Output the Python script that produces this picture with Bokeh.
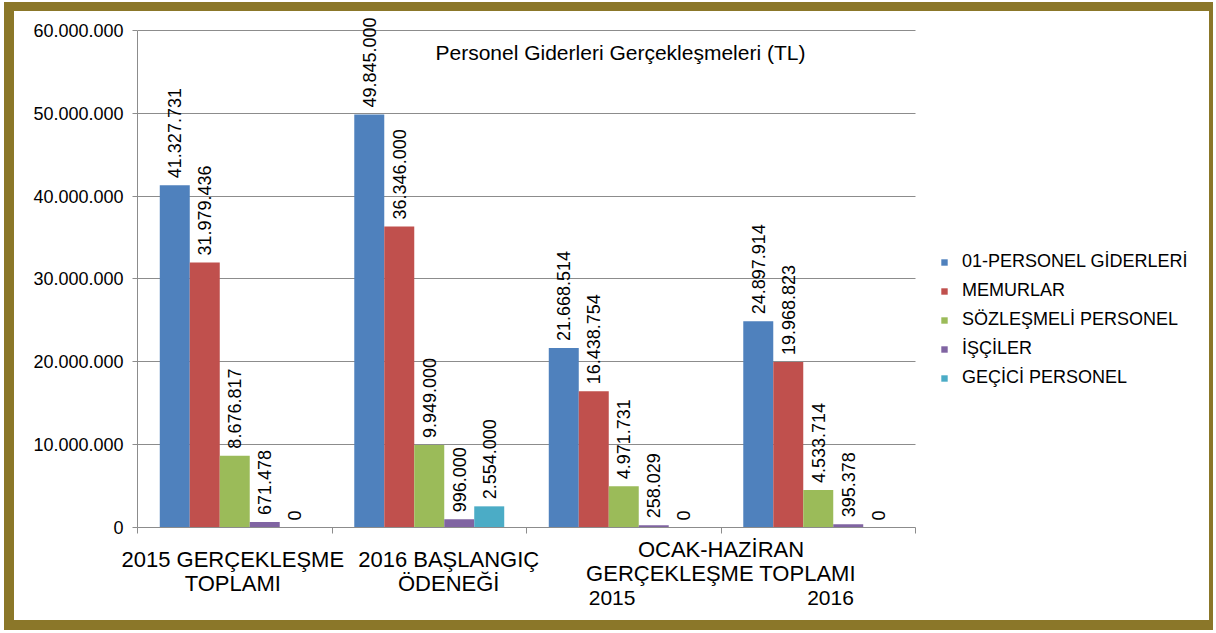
from bokeh.plotting import figure
from bokeh.models import (ColumnDataSource, Range1d, FixedTicker, Legend, LegendItem, Label, LinearAxis)
from bokeh.transform import dodge
from bokeh.core.properties import value
from bokeh.embed import file_html
from bokeh.resources import INLINE

# ---- data ----
categories = ["2015 GERÇEKLEŞME\nTOPLAMI", "2016 BAŞLANGIÇ\nÖDENEĞİ", "2015", "2016"]
group_label = "OCAK-HAZİRAN\nGERÇEKLEŞME TOPLAMI"
series_names = ["01-PERSONEL GİDERLERİ", "MEMURLAR", "SÖZLEŞMELİ PERSONEL", "İŞÇİLER", "GEÇİCİ PERSONEL"]
personel_giderleri = [41327731, 49845000, 21668514, 24897914]
memurlar = [31979436, 36346000, 16438754, 19968823]
sozlesmeli = [8676817, 9949000, 4971731, 4533714]
isciler = [671478, 996000, 258029, 395378]
gecici = [0, 2554000, 0, 0]
series_values = [personel_giderleri, memurlar, sozlesmeli, isciler, gecici]
colors = ["#4F81BD", "#C0504D", "#9BBB59", "#8064A2", "#4BACC6"]
y_ticks = [0, 10000000, 20000000, 30000000, 40000000, 50000000, 60000000]
y_tick_labels = ["0", "10.000.000", "20.000.000", "30.000.000", "40.000.000", "50.000.000", "60.000.000"]
title_text = "Personel Giderleri Gerçekleşmeleri (TL)"

FONT = "Liberation Sans"
N = len(categories)
Y_MAX = 60000000


def tr_fmt(v):
    return f"{v:,}".replace(",", ".")


p = figure(width=1209, height=628, output_backend="svg", toolbar_location=None,
           x_range=Range1d(0, 5.491), y_range=Range1d(0, 61930000),
           min_border_left=123, min_border_top=3, min_border_bottom=112, min_border_right=18,
           background_fill_color="white", border_fill_color="white",
           styles={"border-style": "solid", "border-color": "#8B7729",
                   "border-width": "9px 4px 10px 10px",
                   "margin": "2px 0px 0px 4px"})
p.outline_line_color = None

group_x = [i + 0.5 for i in range(N)]
bar_w = 0.1542
renderers = []
for j, (name, vals, col) in enumerate(zip(series_names, series_values, colors)):
    src = ColumnDataSource(dict(x=group_x, top=vals, lab=[tr_fmt(v) for v in vals]))
    off = (j - 2) * bar_w
    r = p.vbar(x=dodge("x", off), top="top", width=bar_w, source=src,
               fill_color=col, line_color=None)
    renderers.append(r)
    p.text(x=dodge("x", off), y="top", text="lab", source=src, angle=1.5708,
           text_align="left", text_baseline="middle", y_offset=-7,
           text_font=value(FONT), text_font_size="18px", text_color="black")

# grid
p.xgrid.grid_line_color = None
p.ygrid.grid_line_color = "#8C8C8C"
p.ygrid.ticker = FixedTicker(ticks=y_ticks)
p.ygrid.cross_bounds = (0, N)

# y axis
yax = p.yaxis[0]
yax.bounds = (0, Y_MAX)
yax.ticker = FixedTicker(ticks=y_ticks)
yax.major_label_overrides = {t: l for t, l in zip(y_ticks, y_tick_labels)}
yax.axis_line_color = "#8C8C8C"
yax.major_tick_line_color = "#8C8C8C"
yax.major_tick_out = 5
yax.major_tick_in = 0
yax.minor_tick_line_color = None
yax.major_label_text_font = FONT
yax.major_label_text_font_size = "18px"
yax.major_label_text_color = "black"
yax.major_label_standoff = 9

# x axis A: line, boundary ticks and the group label of the last two categories
xax = p.xaxis[0]
xax.bounds = (0, N)
xax.ticker = FixedTicker(ticks=[3.0], minor_ticks=list(range(N + 1)))
xax.major_label_overrides = {3.0: group_label}
xax.axis_line_color = "#8C8C8C"
xax.major_tick_line_color = None
xax.major_tick_out = 0
xax.major_tick_in = 0
xax.minor_tick_line_color = "#8C8C8C"
xax.minor_tick_out = 6
xax.minor_tick_in = 0
xax.major_label_text_font = FONT
xax.major_label_text_font_size = "22px"
xax.major_label_text_color = "black"
xax.major_label_text_line_height = 0.97
xax.major_label_standoff = 3

# x axis B: first two category labels
cat_pos = [0.49, 1.6]
xax_b = LinearAxis(ticker=FixedTicker(ticks=cat_pos), bounds=(0, N),
                   major_label_overrides={t: l for t, l in zip(cat_pos, categories[:2])},
                   axis_line_color=None, major_tick_line_color=None, minor_tick_line_color=None,
                   major_tick_out=0, major_tick_in=0,
                   major_label_text_font=FONT, major_label_text_font_size="22px",
                   major_label_text_line_height=0.97,
                   major_label_text_color="black", major_label_standoff=-42)
p.add_layout(xax_b, "below")

# x axis C: years under the group label
sub_pos = [2.44, 3.563]
xax_c = LinearAxis(ticker=FixedTicker(ticks=sub_pos), bounds=(0, N),
                   major_label_overrides={t: l for t, l in zip(sub_pos, categories[2:])},
                   axis_line_color=None, major_tick_line_color=None, minor_tick_line_color=None,
                   major_tick_out=0, major_tick_in=0,
                   major_label_text_font=FONT, major_label_text_font_size="21px",
                   major_label_text_color="black", major_label_standoff=-8)
p.add_layout(xax_c, "below")

# title inside plot
p.add_layout(Label(x=2.483, y=57370000, text=title_text, text_align="center", text_baseline="middle",
                   text_font=FONT, text_font_size="21px", text_color="black"))

legend = Legend(items=[LegendItem(label=n, renderers=[r]) for n, r in zip(series_names, renderers)],
                location=(803, 139), orientation="vertical",
                glyph_width=8, glyph_height=8, label_height=20, spacing=8,
                label_standoff=14, padding=0, margin=0, border_line_color=None,
                background_fill_alpha=0,
                label_text_font=FONT, label_text_font_size="18px", label_text_color="black")
p.add_layout(legend)

open("out.html", "w").write(file_html(p, INLINE))
